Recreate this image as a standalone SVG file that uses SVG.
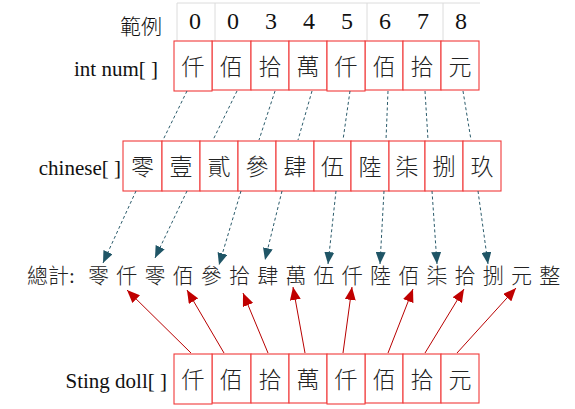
<svg xmlns="http://www.w3.org/2000/svg" width="575" height="409" viewBox="0 0 575 409">
<style>
text{font-family:"Liberation Serif","Noto Sans CJK TC",serif;fill:#111}
.lbl{font-size:21px;text-anchor:end}
.cj{font-size:23px;text-anchor:middle;font-weight:300;fill:#222}
.num{font-size:24px;text-anchor:middle}
.tot{font-size:21px;font-weight:300;fill:#222}
.box{fill:#fff;stroke:#f03a3a;stroke-width:1.1}
.grid{stroke:#dcdcdc;stroke-width:1;fill:none}
.dash{stroke:#2b5b6b;stroke-width:1;stroke-dasharray:3,2.5;fill:none}
.red{stroke:#b80000;stroke-width:1;fill:none}
</style>
<defs>
<marker id="ta" markerUnits="userSpaceOnUse" viewBox="0 0 12 10" refX="12" refY="5" markerWidth="12" markerHeight="10" orient="auto"><path d="M0,0L12,5L0,10z" fill="#1f5566"/></marker>
<marker id="ra" markerUnits="userSpaceOnUse" viewBox="0 0 13 11" refX="13" refY="5.5" markerWidth="13" markerHeight="11" orient="auto"><path d="M0,0L13,5.5L0,11z" fill="#c00000"/></marker>
</defs>
<rect width="575" height="409" fill="#fff"/>

<g id="header">
<path class="grid" d="M177,3H480M177,3V41M215,3V41M367,3V41M443,3V41"/>
<text x="162" y="34" class="lbl" style="font-weight:300">範例</text>
<text class="num" x="195" y="29">0</text>
<text class="num" x="233" y="29">0</text>
<text class="num" x="271" y="29">3</text>
<text class="num" x="309" y="29">4</text>
<text class="num" x="347" y="29">5</text>
<text class="num" x="385" y="29">6</text>
<text class="num" x="423" y="29">7</text>
<text class="num" x="461" y="29">8</text>
</g>

<g id="num">
<text x="158" y="76" class="lbl">int num[ ]</text>
<rect class="box" x="212" y="41" width="39" height="49"/>
<rect class="box" x="251" y="41" width="38" height="49"/>
<rect class="box" x="289" y="41" width="38" height="49"/>
<rect class="box" x="365" y="41" width="38" height="49"/>
<rect class="box" x="403" y="41" width="38" height="49"/>
<rect class="box" x="441" y="41" width="38" height="49"/>
<rect class="box" x="174" y="41" width="38" height="50"/>
<rect class="box" x="327" y="41" width="38" height="50"/>
<text class="cj" x="193" y="75">仟</text>
<text class="cj" x="231" y="75">佰</text>
<text class="cj" x="270" y="75">拾</text>
<text class="cj" x="308" y="75">萬</text>
<text class="cj" x="346" y="75">仟</text>
<text class="cj" x="384" y="75">佰</text>
<text class="cj" x="422" y="75">拾</text>
<text class="cj" x="460" y="75">元</text>
</g>

<g id="chinese">
<text x="121" y="175" class="lbl">chinese[ ]</text>
<rect class="box" x="123" y="141" width="39" height="50"/>
<rect class="box" x="162" y="141" width="38" height="50"/>
<rect class="box" x="200" y="141" width="38" height="50"/>
<rect class="box" x="238" y="141" width="38" height="50"/>
<rect class="box" x="276" y="141" width="38" height="50"/>
<rect class="box" x="314" y="141" width="37" height="50"/>
<rect class="box" x="351" y="141" width="38" height="50"/>
<rect class="box" x="389" y="141" width="36" height="50"/>
<rect class="box" x="425" y="141" width="38" height="50"/>
<rect class="box" x="463" y="141" width="38" height="50"/>
<text class="cj" x="142.5" y="175">零</text>
<text class="cj" x="181" y="175">壹</text>
<text class="cj" x="219" y="175">貳</text>
<text class="cj" x="257" y="175">參</text>
<text class="cj" x="295" y="175">肆</text>
<text class="cj" x="332.5" y="175">伍</text>
<text class="cj" x="370" y="175">陸</text>
<text class="cj" x="407" y="175">柒</text>
<text class="cj" x="444" y="175">捌</text>
<text class="cj" x="482" y="175">玖</text>
</g>

<g id="total">
<text class="tot" x="27" y="283">總計:</text>
<text class="tot" text-anchor="middle" y="283" x="98.5 126.7 154.9 183.1 211.3 239.5 267.7 295.9 324.1 352.3 380.5 408.7 436.9 465.1 493.3 521.5 549.7">零仟零佰參拾肆萬伍仟陸佰柒拾捌元整</text>
</g>

<g id="doll">
<text x="167" y="388" class="lbl">Sting doll[ ]</text>
<rect class="box" x="212" y="354" width="39" height="49"/>
<rect class="box" x="251" y="354" width="38" height="49"/>
<rect class="box" x="289" y="354" width="38" height="49"/>
<rect class="box" x="365" y="354" width="38" height="49"/>
<rect class="box" x="403" y="354" width="38" height="49"/>
<rect class="box" x="441" y="354" width="38" height="49"/>
<rect class="box" x="174" y="354" width="38" height="50"/>
<rect class="box" x="327" y="354" width="38" height="50"/>
<text class="cj" x="193" y="388">仟</text>
<text class="cj" x="231" y="388">佰</text>
<text class="cj" x="270" y="388">拾</text>
<text class="cj" x="308" y="388">萬</text>
<text class="cj" x="346" y="388">仟</text>
<text class="cj" x="384" y="388">佰</text>
<text class="cj" x="422" y="388">拾</text>
<text class="cj" x="460" y="388">元</text>
</g>

<g id="connectors">
<path class="dash" d="M187,91L163,140M237,91L213,140M275,91L259,140M312,91L298,140M350,91L343,140M388,91L386,140M425,91L428,140M463,91L471,140"/>
<g class="dash" marker-end="url(#ta)">
<path d="M136,191L103,263"/>
<path d="M187,191L155,258"/>
<path d="M241,191L219,265"/>
<path d="M282,191L265,260"/>
<path d="M336,191L328,264"/>
<path d="M384,191L380,264"/>
<path d="M432,191L437,264"/>
<path d="M478,191L488,264"/>
</g>
<g class="red" marker-end="url(#ra)">
<path d="M191,353L127,290"/>
<path d="M224,353L187,290"/>
<path d="M268,353L243,293"/>
<path d="M305,353L293,287"/>
<path d="M343,353L352,287"/>
<path d="M388,353L413,289"/>
<path d="M425,353L464,289"/>
<path d="M457,353L516,288"/>
</g>
</g>
</svg>
